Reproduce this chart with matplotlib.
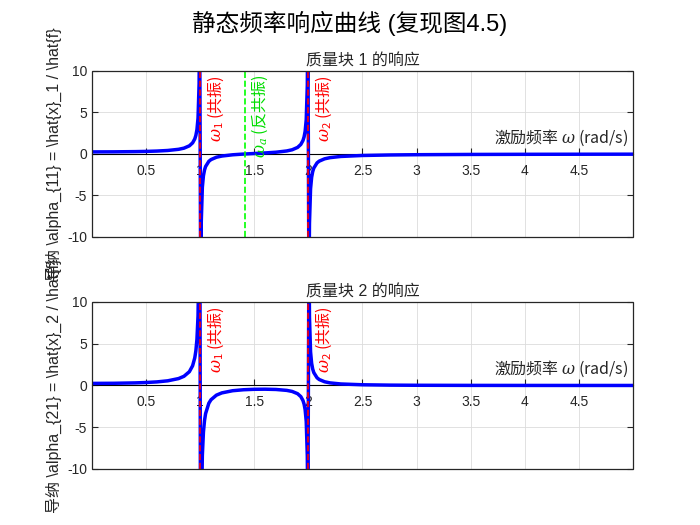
import numpy as np
import matplotlib.pyplot as plt
import matplotlib.transforms as mtransforms
from matplotlib.patches import Rectangle

plt.rcParams['font.family'] = ['Liberation Sans', 'Noto Sans CJK SC', 'DejaVu Sans']
plt.rcParams['axes.unicode_minus'] = False
# 数学文本里也要能显示中文
plt.rcParams['mathtext.fontset'] = 'custom'
plt.rcParams['mathtext.rm'] = 'Noto Sans CJK SC'
plt.rcParams['mathtext.it'] = 'DejaVu Serif:italic'
plt.rcParams['mathtext.bf'] = 'Noto Sans CJK SC:bold'
cjk = 'Noto Sans CJK SC'

# 激励频率 (rad/s) 及两条导纳曲线
omega = [0, 0.2, 0.4, 0.5, 0.6, 0.7, 0.8, 0.85, 0.9, 0.93, 0.95, 0.96, 0.97, 0.98, 0.99, 0.995,
         1.005, 1.01, 1.02, 1.03, 1.04, 1.05, 1.08, 1.1, 1.15, 1.2, 1.3, 1.4, 1.5, 1.6, 1.7, 1.8,
         1.85, 1.9, 1.93, 1.95, 1.96, 1.97, 1.98, 1.99, 1.995,
         2.005, 2.01, 2.02, 2.03, 2.04, 2.05, 2.08, 2.1, 2.15, 2.2, 2.3, 2.5, 2.75, 3, 3.5, 4, 4.5, 5]
alpha11 = [0.25, 0.258, 0.285, 0.311, 0.352, 0.422, 0.562, 0.702, 0.982, 1.34, 1.817, 2.234, 2.929, 4.318, 8.486, 16.82,
           -16.51, -8.18, -4.013, -2.623, -1.928, -1.511, -0.884, -0.674, -0.392, -0.249, -0.097, -0.010, 0.057, 0.125, 0.212, 0.364,
           0.508, 0.791, 1.151, 1.628, 2.046, 2.741, 4.131, 8.298, 16.63,
           -16.71, -8.367, -4.200, -2.811, -2.115, -1.698, -1.071, -0.862, -0.582, -0.440, -0.297, -0.180, -0.119, -0.088, -0.055, -0.039, -0.029, -0.023]
alpha21 = [0.25, 0.263, 0.310, 0.356, 0.429, 0.559, 0.827, 1.100, 1.650, 2.361, 3.311, 4.143, 5.531, 8.308, 16.64, 33.31,
           -33.36, -16.70, -8.363, -5.587, -4.199, -3.367, -2.121, -1.707, -1.158, -0.888, -0.627, -0.511, -0.457, -0.445, -0.477, -0.587,
           -0.715, -0.982, -1.334, -1.807, -2.222, -2.915, -4.302, -8.467, -16.80,
           16.54, 8.203, 4.038, 2.650, 1.957, 1.542, 0.921, 0.715, 0.444, 0.310, 0.181, 0.085, 0.043, 0.025, 0.011, 0.0056, 0.0032, 0.0020]

w1, w2, wa = 1.0, 2.0, 1.414
xticks = [0.5, 1, 1.5, 2, 2.5, 3, 3.5, 4, 4.5]
xticklabels = ['0.5', '1', '1.5', '2', '2.5', '3', '3.5', '4', '4.5']
yticks = [-10, -5, 0, 5, 10]

txt = '#262626'
fig = plt.figure(figsize=(7, 5.25), dpi=100)
fig.suptitle('静态频率响应曲线 (复现图4.5)', fontsize=17, y=0.956, va='center', color='black')

panels = [
    ([0.1314, 0.5486, 0.7729, 0.3162], alpha11, '质量块 1 的响应', r'导纳 \alpha_{11} = \hat{x}_1 / \hat{f}', True),
    ([0.1314, 0.1067, 0.7729, 0.3181], alpha21, '质量块 2 的响应', r'导纳 \alpha_{21} = \hat{x}_2 / \hat{f}', False),
]

for rect, vals, title, ylab, show_anti in panels:
    ax = fig.add_axes(rect)
    ax.plot(omega, vals, color='blue', lw=2.5, zorder=3)
    ax.set_xlim(0, 5)
    ax.set_ylim(-10, 10)
    ax.set_xticks(xticks)
    ax.set_xticklabels(xticklabels)
    ax.set_yticks(yticks)
    ax.grid(True, color='#dcdcdc', lw=0.6)
    ax.set_axisbelow(True)

    # x 轴放在原点
    ax.spines['bottom'].set_position(('data', 0))
    ax.spines['bottom'].set_zorder(2)
    for s in ['top', 'right', 'left']:
        ax.spines[s].set_visible(False)
    ax.add_patch(Rectangle((0, 0), 1, 1, transform=ax.transAxes, fill=False,
                           ec='#262626', lw=0.9, clip_on=False, zorder=5))
    ax.tick_params(axis='x', direction='in', length=4, pad=7, labelsize=10, colors=txt)
    ax.tick_params(axis='y', direction='in', length=4, right=True, labelsize=10, colors=txt)

    ax.set_title(title, fontsize=11.5, pad=4, color=txt)
    ax.set_ylabel(ylab, fontsize=11.5, color=txt, labelpad=4)

    trans = mtransforms.blended_transform_factory(ax.transAxes, ax.transData)
    ax.annotate(r'激励频率 $\omega$ (rad/s)', xy=(1, 0), xycoords=trans,
                xytext=(-5, 6), textcoords='offset pixels', ha='right', va='bottom',
                fontsize=11.5, color=txt, family=cjk)

    xtr = mtransforms.blended_transform_factory(ax.transData, ax.transAxes)
    for w, lab in [(w1, r'$\omega_1$ (共振)'), (w2, r'$\omega_2$ (共振)')]:
        ax.axvline(w, color='red', ls='--', lw=1.2, zorder=4)
        ax.annotate(lab, xy=(w, 1), xycoords=xtr, xytext=(5, -4), textcoords='offset pixels',
                    rotation=90, ha='left', va='top', fontsize=11.5, color='red', zorder=6,
                    family=cjk)
    if show_anti:
        ax.axvline(wa, color='#00ff00', ls='--', lw=1.2, zorder=4)
        ax.annotate(r'$\omega_a$ (反共振)', xy=(wa, 1), xycoords=xtr, xytext=(5, -4),
                    textcoords='offset pixels', rotation=90, ha='left', va='top',
                    fontsize=11.5, color='#00dd00', zorder=6, family=cjk)

fig.savefig('out.png', dpi=100)
